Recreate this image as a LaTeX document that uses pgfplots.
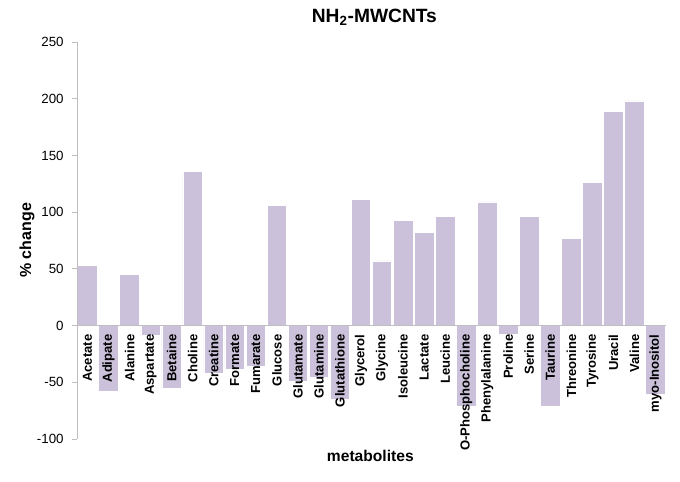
\documentclass[border=0pt]{standalone}
\usepackage{pgfplots}
\pgfplotsset{compat=1.18}
\usepackage{fontspec}
\setmainfont{Liberation Sans}
\definecolor{barcol}{HTML}{CBC1DA}
\definecolor{axgray}{HTML}{BFBFBF}
\begin{document}
\begin{tikzpicture}
\useasboundingbox (-57.75pt,-31.5pt) rectangle (452.25pt,329.25pt);
\begin{axis}[
  at={(0,0)}, anchor=south west,
  scale only axis, width=441.75pt, height=297.75pt,
  xmin=-0.5, xmax=27.5, ymin=-100, ymax=250,
  axis x line=middle, axis y line=left,
  axis on top,
  axis line style={-, axgray, line width=0.6pt},
  hide obscured x ticks=false, hide obscured y ticks=false,
  ytick={-100,-50,0,50,100,150,200,250},
  xtick={0,...,27},
  xticklabels={Acetate,Adipate,Alanine,Aspartate,Betaine,Choline,Creatine,Formate,Fumarate,Glucose,Glutamate,Glutamine,Glutathione,Glycerol,Glycine,Isoleucine,Lactate,Leucine,O-Phosphocholine,Phenylalanine,Proline,Serine,Taurine,Threonine,Tyrosine,Uracil,Valine,myo-Inositol},
  x tick label style={rotate=90, anchor=east, font=\bfseries\fontsize{9.8}{11}\selectfont, xshift=-2pt, inner sep=1pt},
  x tick style={draw=none},
  y tick style={axgray, line width=0.6pt},
  tick align=outside, major tick length=3.5pt,
  y tick label style={font=\fontsize{10}{11}\selectfont, xshift=-3pt},
  /pgf/number format/assume math mode=true,
  ybar, bar width=0.93, bar shift=0pt,
  clip=false,
]
\addplot[fill=barcol, draw=white, line width=0.5pt] coordinates {
(0,53) (1,-58) (2,45) (3,-9) (4,-55) (5,136) (6,-42) (7,-39) (8,-36) (9,106)
(10,-49) (11,-46) (12,-65) (13,111) (14,57) (15,93) (16,82) (17,96) (18,-71)
(19,109) (20,-8) (21,96) (22,-71) (23,77) (24,126) (25,189) (26,198) (27,-61)
};
\end{axis}
\node[font=\bfseries\fontsize{14.4}{16}\selectfont] at (223pt,316pt) {NH\textsubscript{2}-MWCNTs};
\node[font=\bfseries\fontsize{12}{14}\selectfont, rotate=90] at (-37.5pt,149pt) {\% change};
\node[font=\bfseries\fontsize{11.7}{13}\selectfont] at (220pt,-12.5pt) {metabolites};
\end{tikzpicture}
\end{document}
